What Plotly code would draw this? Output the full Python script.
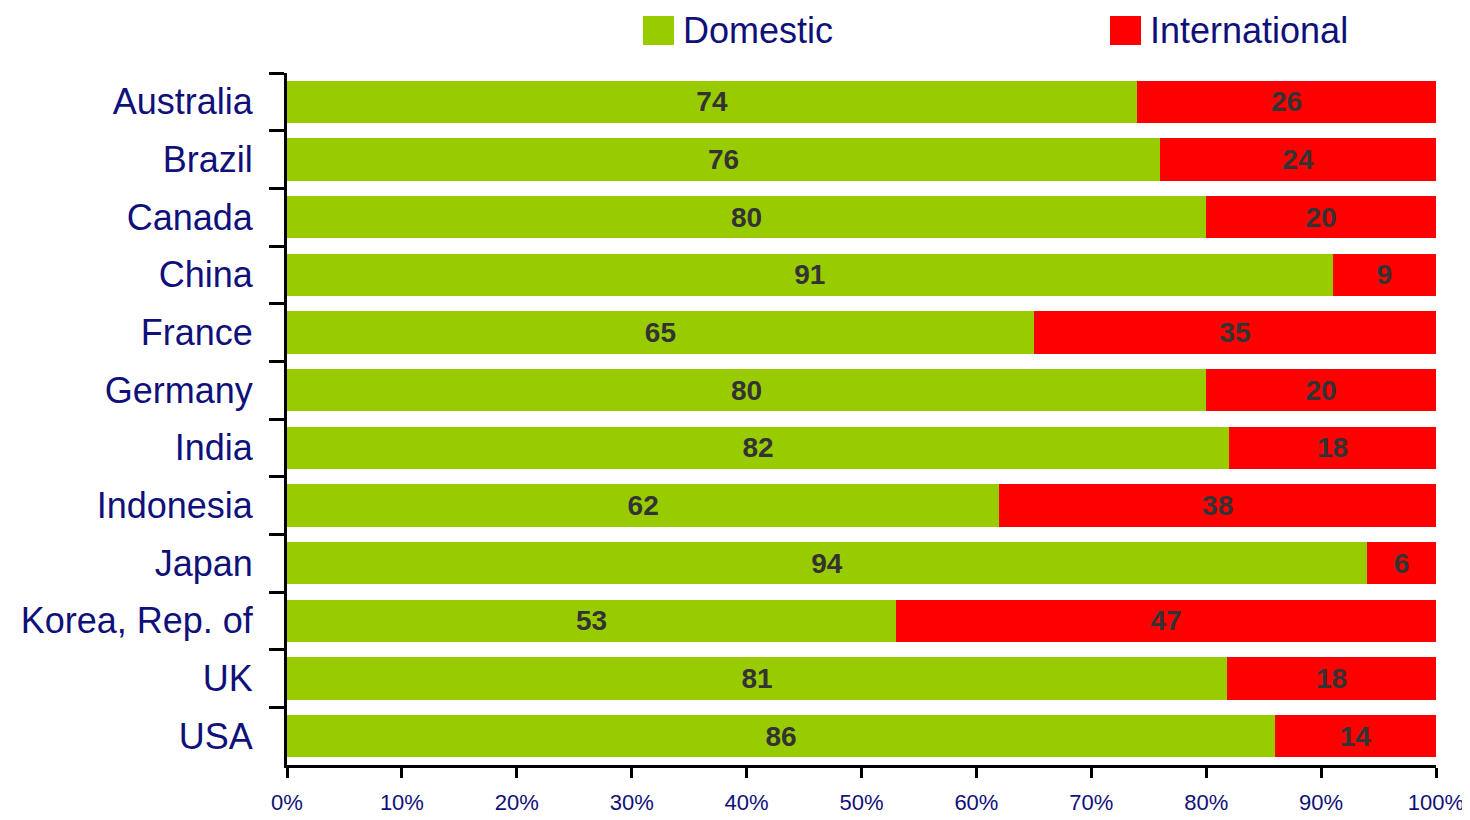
import plotly.graph_objects as go

countries = ["Australia", "Brazil", "Canada", "China", "France", "Germany", "India",
             "Indonesia", "Japan", "Korea, Rep. of", "UK", "USA"]
domestic = [74, 76, 80, 91, 65, 80, 82, 62, 94, 53, 81, 86]
international = [26, 24, 20, 9, 35, 20, 18, 38, 6, 47, 18, 14]
series_names = ["Domestic", "International"]
series_colors = ["#99CC00", "#FF0000"]
x_ticks = [0, 10, 20, 30, 40, 50, 60, 70, 80, 90, 100]

FONT = "Liberation Sans, Arial, sans-serif"
NAVY = "#10107a"

OFF = 8  # page body margin
W, H = 1470 - OFF, 820 - OFF
L, R, T, B = 287 - OFF, 34, 73 - OFF, 55
PW = W - L - R
PH = H - T - B

fig = go.Figure()
for name, vals, col in zip(series_names, [domestic, international], series_colors):
    fig.add_trace(go.Bar(
        y=countries, x=vals, name=name, orientation="h",
        marker=dict(color=col, line=dict(width=0)),
        text=[str(v) for v in vals], textposition="inside", insidetextanchor="middle",
        textangle=0,
        textfont=dict(family=FONT, size=28, color="#333333", weight="bold"),
        showlegend=False,
    ))

fig.update_layout(
    barmode="stack", barnorm="percent", bargap=0.27,
    width=W, height=H,
    margin=dict(l=L, r=R, t=T, b=B, autoexpand=False),
    plot_bgcolor="white", paper_bgcolor="white",
    font=dict(family=FONT, color=NAVY),
    uniformtext=dict(minsize=28, mode="show"),
)
fig.update_xaxes(
    range=[0, 100], tickvals=x_ticks, ticktext=[f"{t}%" for t in x_ticks],
    showgrid=False, zeroline=False, showline=True, linecolor="black", linewidth=3,
    ticks="outside", ticklen=10, tickwidth=3, tickcolor="black",
    tickfont=dict(family=FONT, size=22, color=NAVY), ticklabelstandoff=6,
    automargin=False,
)
fig.update_yaxes(
    categoryorder="array", categoryarray=countries, autorange="reversed",
    showgrid=False, zeroline=False, showline=True, linecolor="black", linewidth=3,
    ticks="outside", ticklen=15, tickwidth=3, tickcolor="black", tickson="boundaries",
    tickfont=dict(family=FONT, size=36, color=NAVY), ticklabelstandoff=24,
    automargin=False,
)

# legend drawn at top (reference pixel positions)
legend_x = [643, 1110]
for name, col, px in zip(series_names, series_colors, legend_x):
    fig.add_shape(type="rect", xref="paper", yref="paper",
                  x0=(px - 287) / PW, x1=(px + 31 - 287) / PW,
                  y0=(765 - 45) / PH, y1=(765 - 16) / PH,
                  fillcolor=col, line=dict(width=0))
    fig.add_annotation(xref="paper", yref="paper", x=(px + 38 - 287) / PW,
                       y=(765 - 30) / PH, text=name, showarrow=False,
                       xanchor="left", yanchor="middle",
                       font=dict(family=FONT, size=36, color=NAVY))

fig.write_html("out.html")
